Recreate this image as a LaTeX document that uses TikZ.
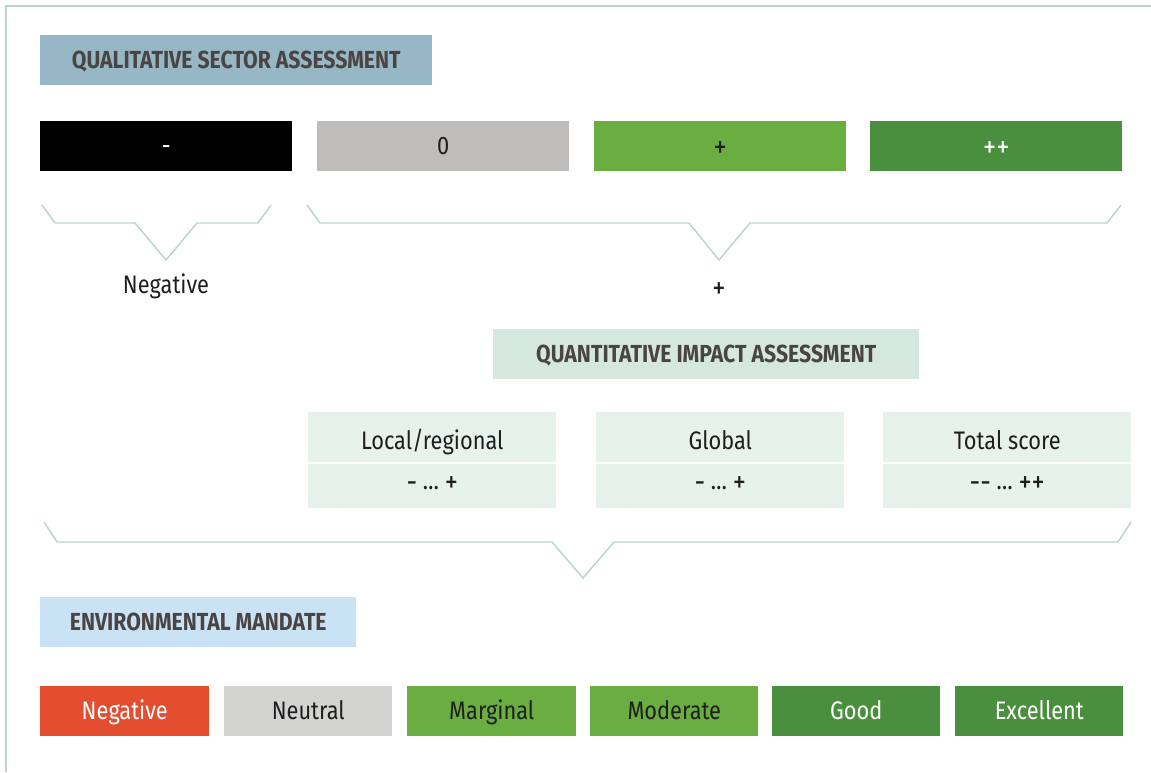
\documentclass[tikz,border=0pt]{standalone}
\usepackage{fontspec}
\setmainfont{Fira Sans}[FakeStretch=0.86]
\usepackage{tikz}
\usetikzlibrary{calc}

\definecolor{framegreen}{HTML}{BCD4CB}
\definecolor{qualblue}{HTML}{97B6C6}
\definecolor{quantgreen}{HTML}{D4E8DF}
\definecolor{impactgreen}{HTML}{E8F2ED}
\definecolor{mandateblue}{HTML}{C9E2F4}
\definecolor{headgrey}{HTML}{4A4543}
\definecolor{zerogrey}{HTML}{BEBDBB}
\definecolor{neutralgrey}{HTML}{D3D3D2}
\definecolor{lightgreen}{HTML}{6AAD40}
\definecolor{darkgreen}{HTML}{4A8F3D}
\definecolor{negred}{HTML}{E34E30}
\definecolor{textblack}{HTML}{1E1E1E}

\newcommand{\bigsign}[1]{\raisebox{-2.2pt}{\fontsize{23}{24}\selectfont #1}}

\tikzset{
  header/.style={anchor=north west, inner sep=0pt, minimum height=37.5pt,
    text height=12.7pt, text depth=0pt,
    text=headgrey, font=\bfseries\fontsize{18.5}{20}\selectfont},
  box/.style={anchor=north west, inner sep=0pt, minimum height=37.5pt,
    text height=13pt, text depth=0pt,
    text=textblack, font=\fontsize{19}{21}\selectfont},
  cell/.style={box, fill=impactgreen, minimum width=186pt, text height=19pt},
  rangecell/.style={box, fill=impactgreen, minimum width=186pt, minimum height=33pt, text depth=7.5pt},
  brace/.style={framegreen, line width=1.1pt}
}

\begin{document}
\begin{tikzpicture}[x=0.75pt, y=-0.75pt]
    \useasboundingbox (0,0) rectangle (1151,772);

    %frame
    \draw[framegreen, line width=1pt] (1151,6) -- (6,6) -- (6,772);

    %qualitative sector assessment
    \node[header, fill=qualblue, minimum width=294pt] (qual) at (40,35) {QUALITATIVE SECTOR ASSESSMENT};

    \node[box, fill=black, text=white, minimum width=189pt] (minus) at (40,121) {-};
    \node[box, fill=zerogrey, minimum width=189pt] (zero) at (317,121) {0};
    \node[box, fill=lightgreen, minimum width=189pt] (plus) at (594,121) {\bigsign{+}};
    \node[box, fill=darkgreen, text=white, minimum width=189pt] (plusplus) at (870,121) {\bigsign{++}};

    %negative brace
    \draw[brace] (42,205) -- (55,223) -- (135,223) -- (166,260) -- (197,223) -- (258,223) -- (271,205);
    \node[box, anchor=center] (neg) at (166,285) {Negative};

    %positive brace
    \draw[brace] (307,205) -- (320,223) -- (689,223) -- (719,260) -- (750,223) -- (1107,223) -- (1121,205);
    \node[box, anchor=center] (pos) at (719,287) {\bigsign{+}};

    %quantitative impact assessment
    \node[header, fill=quantgreen, minimum width=319.5pt] (quant) at (493,329) {QUANTITATIVE IMPACT ASSESSMENT};

    \node[cell] (local) at (308,412) {Local/regional};
    \node[rangecell] (localrange) at (308,464) {\bigsign{-} … \bigsign{+}};
    \node[cell] (global) at (596,412) {Global};
    \node[rangecell] (globalrange) at (596,464) {\bigsign{-} … \bigsign{+}};
    \node[cell] (total) at (883,412) {Total score};
    \node[rangecell] (totalrange) at (883,464) {\bigsign{-{}-} … \bigsign{++}};

    %mandate brace
    \draw[brace] (44,522) -- (57,542) -- (552,542) -- (583,578) -- (614,542) -- (1118,542) -- (1131,522);

    %environmental mandate
    \node[header, fill=mandateblue, minimum width=237pt] (mandate) at (40,597) {ENVIRONMENTAL MANDATE};

    \node[box, fill=negred, text=white, minimum width=126.75pt] (negative) at (40,686) {Negative};
    \node[box, fill=neutralgrey, minimum width=126pt] (neutral) at (224,686) {Neutral};
    \node[box, fill=lightgreen, minimum width=126.75pt] (marginal) at (407,686) {Marginal};
    \node[box, fill=lightgreen, minimum width=126pt] (moderate) at (590,686) {Moderate};
    \node[box, fill=darkgreen, text=white, minimum width=126pt] (good) at (772,686) {Good};
    \node[box, fill=darkgreen, text=white, minimum width=126pt] (excellent) at (955,686) {Excellent};

\end{tikzpicture}
\end{document}
